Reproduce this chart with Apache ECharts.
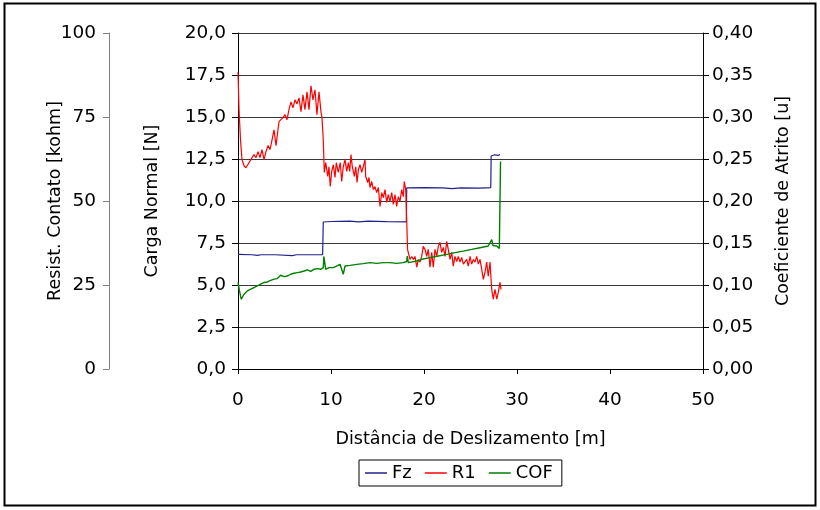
<!DOCTYPE html>
<html>
<head>
<meta charset="utf-8">
<script src="https://cdn.jsdelivr.net/npm/echarts@6/dist/echarts.min.js"></script>
<style>html,body{margin:0;padding:0;background:#fff;}#c{width:820px;height:510px;}</style>
</head>
<body>
<div id="c"></div>
<script>
// Distância de Deslizamento [m] vs Carga Normal Fz [N]
const fzData = [[0,6.82],[1.5,6.8],[2.07,6.76],[2.5,6.8],[4,6.8],[5.84,6.75],[6.3,6.8],[8,6.8],[9.1,6.8],[9.17,8.75],[10,8.78],[12,8.8],[13,8.76],[14,8.8],[16,8.77],[18.1,8.76],[18.14,10.78],[20,10.8],[22,10.78],[23,10.74],[24,10.78],[26,10.77],[27.18,10.8],[27.22,12.68],[27.6,12.75],[28.0,12.72],[28.17,12.76]];
// R1 [kohm]
const r1Data = [[0,88.4],[0.11,77.2],[0.27,68.2],[0.43,62.3],[0.65,60.5],[0.86,59.9],[1.18,61.4],[1.51,62.9],[1.72,63.8],[1.94,62.9],[2.15,64.7],[2.37,62.9],[2.58,65.3],[2.8,62.3],[3.01,64.7],[3.23,66.5],[3.44,65.3],[3.66,68.2],[3.87,71.2],[4.09,66.5],[4.3,71.2],[4.41,73.6],[4.62,74.2],[4.84,74.8],[5.05,75.7],[5.27,74.2],[5.48,77.2],[5.7,79.5],[5.91,77.7],[6.13,80.1],[6.34,78.9],[6.56,80.7],[6.77,76.6],[6.99,81.6],[7.2,77.2],[7.42,82.5],[7.63,77.2],[7.85,84.3],[8.06,80.1],[8.28,83.1],[8.49,75.7],[8.71,82.5],[8.92,76.6],[9.03,74.8],[9.17,68.2],[9.28,58.5],[9.43,61.4],[9.65,57.3],[9.78,60.2],[9.92,54.3],[10.08,58.8],[10.25,60.8],[10.43,57.0],[10.57,61.4],[10.78,58.5],[11.0,61.4],[11.15,55.8],[11.32,60.2],[11.51,62.3],[11.69,58.8],[11.86,61.4],[12.01,58.8],[12.15,63.8],[12.29,60.2],[12.51,57.3],[12.66,60.2],[12.8,55.5],[12.94,59.3],[13.12,60.8],[13.3,58.5],[13.47,60.2],[13.66,62.3],[13.73,57.3],[13.95,55.5],[14.09,57.0],[14.19,54.0],[14.38,55.8],[14.55,53.4],[14.73,54.3],[14.91,52.5],[15.09,54.0],[15.27,48.4],[15.45,52.5],[15.62,51.0],[15.81,53.4],[15.99,49.6],[16.16,51.9],[16.34,49.9],[16.53,52.5],[16.7,49.0],[16.88,51.9],[17.06,48.4],[17.24,51.3],[17.42,49.9],[17.6,53.4],[17.77,51.3],[17.88,55.8],[18.03,53.4],[18.14,44.5],[18.23,35.6],[18.31,35.6],[18.49,32.6],[18.68,33.5],[18.85,32.6],[19.03,33.5],[19.22,30.3],[19.39,32.6],[19.57,31.8],[19.75,33.5],[19.92,36.5],[20.11,35.6],[20.29,33.5],[20.46,35.6],[20.65,30.3],[20.83,34.7],[21.0,30.3],[21.18,35.6],[21.37,33.5],[21.54,36.5],[21.72,37.7],[21.9,34.7],[22.08,36.2],[22.26,33.5],[22.44,38.0],[22.61,35.6],[22.8,32.6],[22.98,34.7],[23.15,30.6],[23.33,33.5],[23.52,32.0],[23.69,33.5],[23.87,31.8],[24.05,33.2],[24.23,31.2],[24.59,32.6],[24.76,30.6],[24.95,33.5],[25.13,31.2],[25.3,32.6],[25.48,31.8],[25.67,33.5],[25.84,31.2],[26.02,32.6],[26.2,29.7],[26.38,26.7],[26.56,28.8],[26.74,31.8],[26.91,27.6],[27.1,31.8],[27.28,23.7],[27.45,20.8],[27.63,23.7],[27.82,20.8],[27.99,22.8],[28.17,25.8],[28.28,23.7]];
// COF [u]
const cofData = [[0,0.103],[0.16,0.093],[0.35,0.083],[0.65,0.089],[1.0,0.093],[1.37,0.095],[1.72,0.097],[2.08,0.099],[2.44,0.101],[2.8,0.103],[3.15,0.1036],[3.52,0.1056],[3.87,0.107],[4.23,0.1076],[4.59,0.1116],[4.95,0.110],[5.3,0.1107],[5.67,0.1128],[6.02,0.114],[6.38,0.1148],[6.74,0.1155],[7.1,0.1167],[7.45,0.1179],[7.82,0.1163],[8.17,0.1187],[8.53,0.1195],[8.89,0.1187],[9.17,0.1207],[9.23,0.134],[9.43,0.1187],[9.78,0.1207],[10.25,0.1207],[10.97,0.1246],[11.32,0.1128],[11.51,0.1226],[12.04,0.1234],[12.76,0.1246],[13.47,0.1254],[14.19,0.1266],[14.91,0.1258],[15.62,0.1266],[16.34,0.1266],[17.06,0.1258],[17.77,0.1266],[18.14,0.128],[18.2,0.1345],[18.31,0.1266],[18.49,0.1274],[19.22,0.1286],[19.75,0.1306],[20.65,0.1326],[21.54,0.1345],[22.44,0.1365],[23.33,0.1385],[24.23,0.1404],[25.13,0.1424],[26.02,0.1444],[26.91,0.1464],[27.1,0.148],[27.28,0.154],[27.42,0.147],[27.82,0.1464],[27.99,0.1444],[28.1,0.1436],[28.23,0.247]];
const seriesNames = ['Fz','R1','COF'];
const xName = 'Distância de Deslizamento [m]';
const fzName = 'Carga Normal [N]';
const cofName = 'Coeficiente de Atrito [u]';
const resName = 'Resist. Contato [kohm]';

const FONT = 'DejaVu Sans';
const chart = echarts.init(document.getElementById('c'), null, {renderer:'canvas'});
chart.setOption({
  animation: false,
  backgroundColor: '#fff',
  textStyle: {fontFamily: FONT, color: '#000'},
  graphic: [{type:'rect', shape:{x:4.5, y:3.5, width:811, height:502}, style:{fill:'none', stroke:'#000', lineWidth:2}, silent:true}],
  grid: {left: 238, right: 117, top: 33, bottom: 141},
  legend: {
    data: seriesNames, left: 359, top: 460, orient: 'horizontal',
    borderColor: '#000', borderWidth: 1, padding: [4, 9, 4, 6], itemGap: 13,
    icon: 'rect', itemWidth: 22, itemHeight: 1.5,
    textStyle: {fontFamily: FONT, fontSize: 18, color: '#000'}
  },
  xAxis: {
    type: 'value', min: 0, max: 50, interval: 10,
    name: xName, nameLocation: 'middle', nameGap: 61,
    nameTextStyle: {fontFamily: FONT, fontSize: 17.5, color: '#000'},
    axisLine: {show: true, lineStyle: {color: '#000', width: 1}},
    axisTick: {show: true, inside: false, length: 5, lineStyle: {color: '#000'}},
    axisLabel: {fontFamily: FONT, fontSize: 18.5, color: '#000', margin: 22},
    splitLine: {show: false}
  },
  yAxis: [
    {
      type: 'value', min: 0, max: 20, interval: 2.5, position: 'left',
      name: fzName, nameLocation: 'middle', nameGap: 77, nameRotate: 90,
      nameTextStyle: {fontFamily: FONT, fontSize: 17.5, color: '#000'},
      axisLine: {show: true, lineStyle: {color: '#000', width: 1}},
      axisTick: {show: true, inside: false, length: 6, lineStyle: {color: '#000'}},
      axisLabel: {fontFamily: FONT, fontSize: 18.5, color: '#000', margin: 12, formatter: v => v.toFixed(1).replace('.', ',')},
      splitLine: {show: true, lineStyle: {color: '#3a3a3a', width: 1}}
    },
    {
      type: 'value', min: 0, max: 0.4, interval: 0.05, position: 'right',
      name: cofName, nameLocation: 'middle', nameGap: 71, nameRotate: 90,
      nameTextStyle: {fontFamily: FONT, fontSize: 17.5, color: '#000'},
      axisLine: {show: true, lineStyle: {color: '#000', width: 1}},
      axisTick: {show: true, inside: false, length: 6, lineStyle: {color: '#000'}},
      axisLabel: {fontFamily: FONT, fontSize: 18.5, color: '#000', margin: 9, formatter: v => v.toFixed(2).replace('.', ',')},
      splitLine: {show: false}
    },
    {
      type: 'value', min: 0, max: 100, interval: 25, position: 'left', offset: 129,
      name: resName, nameLocation: 'middle', nameGap: 45, nameRotate: 90, nameMoveOverlap: false,
      nameTextStyle: {fontFamily: FONT, fontSize: 17.5, color: '#000'},
      axisLine: {show: true, lineStyle: {color: '#808080', width: 1}},
      axisTick: {show: true, inside: false, length: 6, lineStyle: {color: '#808080'}},
      axisLabel: {fontFamily: FONT, fontSize: 18.5, color: '#000', margin: 13},
      splitLine: {show: false}
    }
  ],
  series: [
    {name: 'Fz', type: 'line', yAxisIndex: 0, data: fzData, symbol: 'none', lineStyle: {color: '#22228a', width: 1.2}, itemStyle: {color: '#22228a'}},
    {name: 'R1', type: 'line', yAxisIndex: 2, data: r1Data, symbol: 'none', lineStyle: {color: '#ff0000', width: 1.2}, itemStyle: {color: '#ff0000'}},
    {name: 'COF', type: 'line', yAxisIndex: 1, data: cofData, symbol: 'none', lineStyle: {color: '#008000', width: 1.4}, itemStyle: {color: '#008000'}}
  ]
});
</script>
</body>
</html>
